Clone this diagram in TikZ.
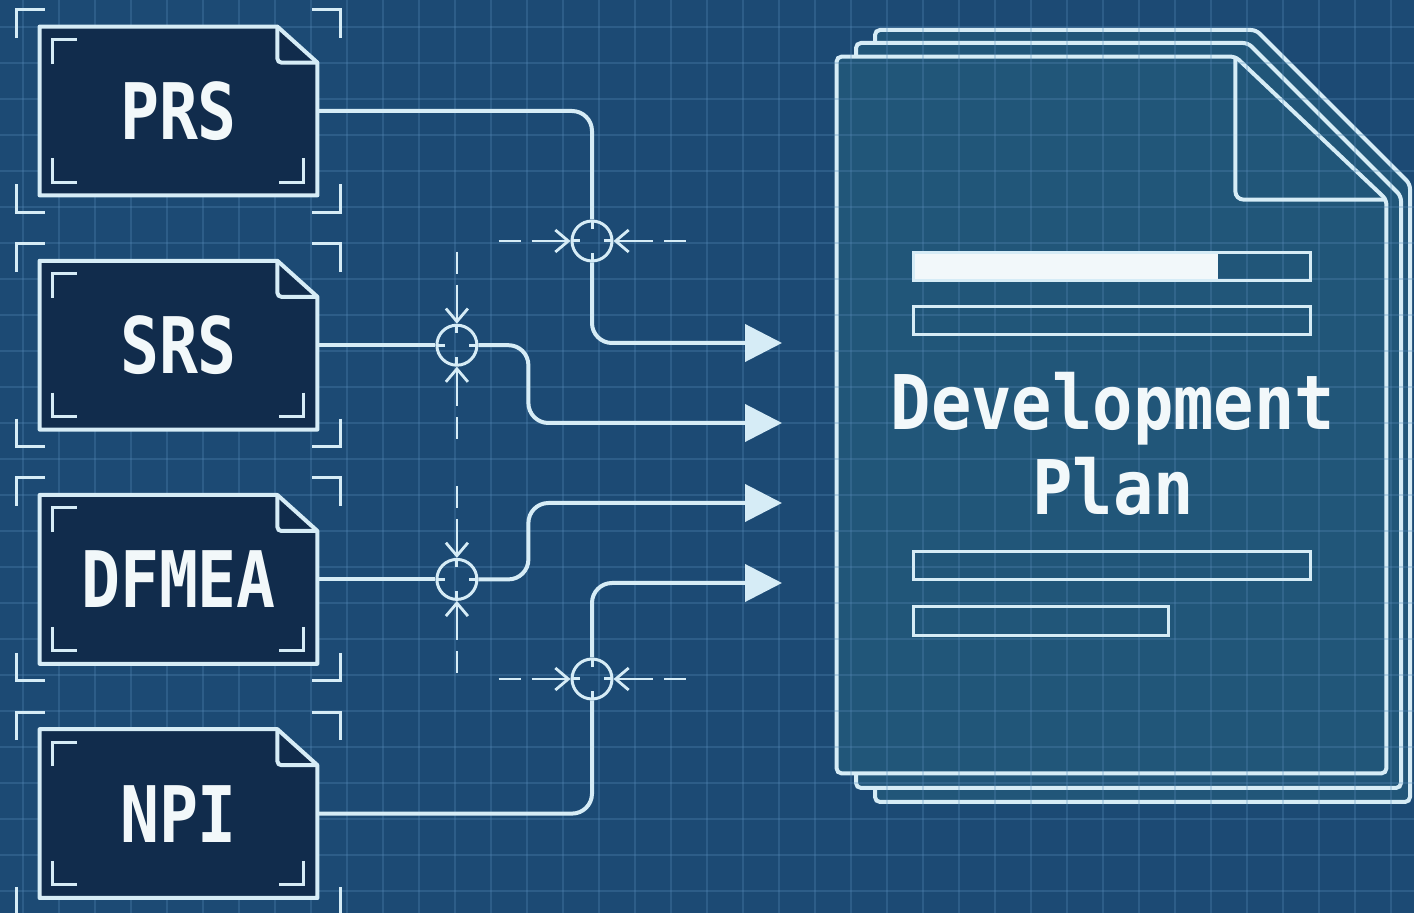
\documentclass[tikz,border=0pt]{standalone}
\usepackage{fontspec}
\usepackage{tikz}
\usetikzlibrary{arrows.meta,positioning,backgrounds}

\newfontfamily\boxfont{DejaVu Sans Mono}[FakeStretch=0.83]
\newfontfamily\titlefont{DejaVu Sans Mono}[FakeStretch=0.89]

\definecolor{paper}{HTML}{1C4A74}
\definecolor{gridblue}{HTML}{5B8FBC}
\definecolor{boxfill}{HTML}{112C4C}
\definecolor{sheetfill}{HTML}{215679}
\definecolor{ink}{HTML}{D6ECF6}
\definecolor{txt}{HTML}{F2F8FA}

\tikzset{
  docbox/.style = {shape = rectangle, minimum width = 138.5pt, minimum height = 84pt, inner sep = 0pt,
    text = txt, font = \boxfont\bfseries\fontsize{39}{39}\selectfont},
  docshape/.style = {fill = boxfill, draw = ink, line width = 2pt, line join = round},
  bracket/.style = {draw = ink, line width = 1.5pt},
  feed/.style = {draw = ink, line width = 2pt, rounded corners = 10pt},
  feedin/.style = {feed, -{Triangle[length = 18.5pt, width = 18.5pt]}},
  junction/.style = {shape = circle, draw = ink, line width = 1.5pt, minimum size = 20pt, inner sep = 0pt,
    path picture = {\draw[ink, line width = 1.5pt]
      (path picture bounding box.north) -- ++(0,-4pt) (path picture bounding box.south) -- ++(0,4pt)
      (path picture bounding box.west) -- ++(4pt,0) (path picture bounding box.east) -- ++(-4pt,0);}},
  guide/.style = {draw = ink, line width = 1.4pt, dash pattern = on 11pt off 5.5pt on 30pt,
    -{Straight Barb[length = 6.5pt, width = 11pt]}},
  sheet/.style = {fill = sheetfill, draw = ink, line width = 2pt, rounded corners = 2.5pt},
  bar/.style = {draw = ink, line width = 1.5pt},
  title/.style = {text = txt, font = \titlefont\bfseries\fontsize{37.7}{42}\selectfont, anchor = base, inner sep = 0pt},
  gridline/.style = {draw = gridblue, line width = 0.8pt, opacity = 0.28}
}

\begin{document}
\begin{tikzpicture}[x = 0.5pt, y = -0.5pt]
\useasboundingbox (0,0) rectangle (1414,913);

% source documents
\node[docbox] (prs) at (178.5,111) {PRS};
\node[docbox, below = 32.7pt of prs] (srs) {SRS};
\node[docbox, below = 32.7pt of srs] (dfmea) {DFMEA};
\node[docbox, below = 32.7pt of dfmea] (npi) {NPI};

% development plan sheet
\node[shape = rectangle, minimum width = 274.5pt, minimum height = 358pt, inner sep = 0pt] (plan) at (1111.5,415) {};
\node[title] (plantop) at (1113,430) {Development};
\node[title] (planbot) at (1113,515) {Plan};

% crossing points
\node[junction] (prsjoin) at (592,241) {};
\node[junction, right = 59pt of srs] (srsjoin) {};
\node[junction, right = 59pt of dfmea] (dfmeajoin) {};
\node[junction] (npijoin) at (592,679) {};

\coordinate (inprs) at (782,343);
\coordinate (insrs) at (782,423);
\coordinate (indfmea) at (782,503);
\coordinate (innpi) at (782,583);

\begin{scope}[on background layer]
\fill[paper] (0,0) rectangle (1414,913);
\draw[sheet] (875,802) -- (875,30) -- (1256,30) -- (1410,184) -- (1410,802) -- cycle;
\draw[sheet] (856,788) -- (856,43) -- (1248,43) -- (1401,196) -- (1401,788) -- cycle;
\draw[sheet] (plan.south west) -- (plan.north west) -- ([xshift=-75.5pt]plan.north east)
  -- ([yshift=-71.5pt]plan.north east) -- (plan.south east) -- cycle;
\foreach \x in {23,59,...,1414} \draw[gridline] (\x,0) -- (\x,913);
\foreach \y in {27,63,...,913} \draw[gridline] (0,\y) -- (1414,\y);
\foreach \n in {prs,srs,dfmea,npi}
  \filldraw[docshape] (\n.south west) -- (\n.north west) -- ([xshift=-20pt]\n.north east)
    -- ([yshift=-18pt]\n.north east) -- (\n.south east) -- cycle;
\end{scope}

% folds and corner marks
\foreach \n in {prs,srs,dfmea,npi} {
  \draw[bracket, line width = 2pt, rounded corners = 2pt] ([xshift=-20pt]\n.north east) |- ([yshift=-18pt]\n.north east);
  \draw[bracket] ([shift={(6.5pt,-18.5pt)}]\n.north west) -- ++(0,12pt) -- ++(12pt,0);
  \draw[bracket] ([shift={(6.5pt,18.5pt)}]\n.south west) -- ++(0,-12pt) -- ++(12pt,0);
  \draw[bracket] ([shift={(-7pt,18.5pt)}]\n.south east) -- ++(0,-12pt) -- ++(-12pt,0);
  \draw[bracket] ([shift={(-11.5pt,-5.5pt)}]\n.north west) -- ++(0,14pt) -- ++(14pt,0);
  \draw[bracket] ([shift={(11.5pt,-5.5pt)}]\n.north east) -- ++(0,14pt) -- ++(-14pt,0);
  \draw[bracket] ([shift={(-11.5pt,5.5pt)}]\n.south west) -- ++(0,-14pt) -- ++(14pt,0);
  \draw[bracket] ([shift={(11.5pt,5.5pt)}]\n.south east) -- ++(0,-14pt) -- ++(-14pt,0);
}

\draw[ink, line width = 2pt, rounded corners = 4pt] ([xshift=-75.5pt]plan.north east) |- ([yshift=-71.5pt]plan.north east);

% content lines on the sheet
\fill[txt] (913,253) rectangle (1218,281);
\draw[bar] (913,253) rectangle (1310,281);
\draw[bar] (913,307) rectangle (1310,335);
\draw[bar] (913,552) rectangle (1310,580);
\draw[bar] (913,607) rectangle (1168,636);

% feeds into the plan
\draw[feed] (prs.east) -| (prsjoin.north);
\draw[feedin] (prsjoin.south) |- (inprs);
\draw[feed] (srs.east) -- (srsjoin.west);
\draw[feedin] (srsjoin.east) -- ++(50,0) |- (insrs);
\draw[feed] (dfmea.east) -- (dfmeajoin.west);
\draw[feedin] (dfmeajoin.east) -- ++(50,0) |- (indfmea);
\draw[feed] (npi.east) -| (npijoin.south);
\draw[feedin] (npijoin.north) |- (innpi);

% alignment guides
\foreach \j in {prsjoin,npijoin} {
  \draw[guide] ([xshift=-36pt]\j.west) -- (\j.west);
  \draw[guide] ([xshift=36pt]\j.east) -- (\j.east);
}
\foreach \j in {srsjoin,dfmeajoin} {
  \draw[guide] ([yshift=36pt]\j.north) -- (\j.north);
  \draw[guide] ([yshift=-36pt]\j.south) -- (\j.south);
}
\end{tikzpicture}
\end{document}
